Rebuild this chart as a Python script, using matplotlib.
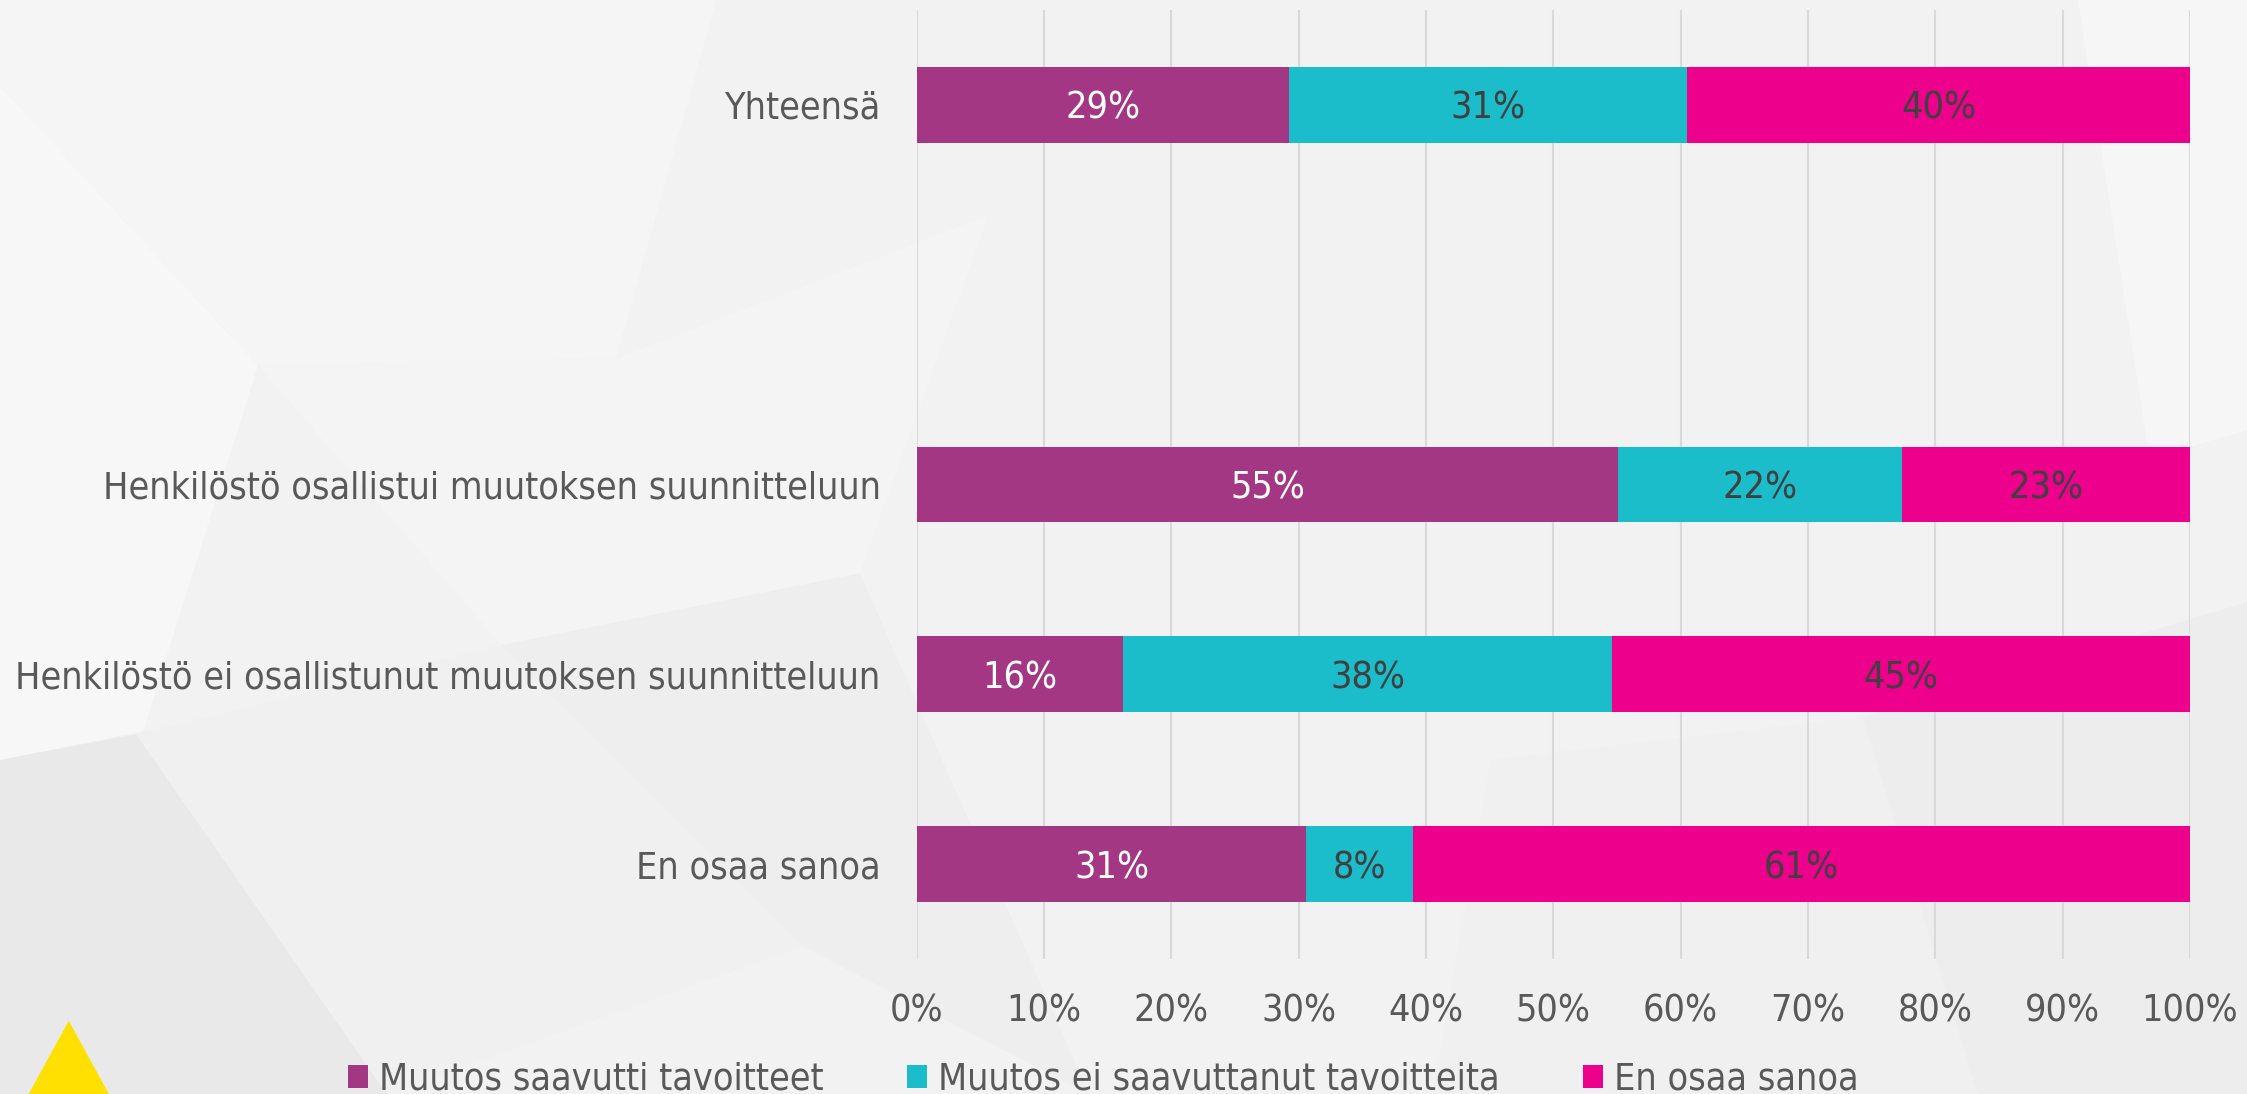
import matplotlib.pyplot as plt
from matplotlib.patches import Polygon, Patch

plt.rcParams['font.family'] = ['DejaVu Sans']
plt.rcParams['font.stretch'] = 'condensed'

# Data
categories = [
    "Yhteensä",
    "",
    "Henkilöstö osallistui muutoksen suunnitteluun",
    "Henkilöstö ei osallistunut muutoksen suunnitteluun",
    "En osaa sanoa",
]
reached = [29.2, None, 55.1, 16.2, 30.6]
not_reached = [31.3, None, 22.3, 38.4, 8.4]
dont_know = [39.5, None, 22.6, 45.4, 61.0]

series_names = [
    "Muutos saavutti tavoitteet",
    "Muutos ei saavuttanut tavoitteita",
    "En osaa sanoa",
]
colors = ["#A43784", "#1BBDCA", "#EC008C"]
label_colors = ["white", "#404040", "#404040"]
text_color = "#595959"
fs = 27

fig = plt.figure(figsize=(22.47, 10.94), dpi=100)
fig.patch.set_facecolor("#f2f2f2")

# Background shapes (light geometric pattern) in a full-figure axes
bg = fig.add_axes([0, 0, 1, 1], zorder=-1)
bg.set_xlim(0, 1568)
bg.set_ylim(763, 0)
bg.axis("off")
shapes = [
    ([(0, 0), (500, 0), (430, 250), (180, 255), (0, 60)], "#f5f5f5"),
    ([(0, 60), (180, 255), (100, 510), (0, 530)], "#f7f7f7"),
    ([(180, 255), (430, 250), (690, 150), (600, 400), (350, 450)], "#f4f4f4"),
    ([(0, 530), (95, 512), (270, 763), (0, 763)], "#e9e9e9"),
    ([(95, 512), (350, 450), (560, 660), (270, 763)], "#f0f0f0"),
    ([(350, 450), (600, 400), (760, 763), (560, 660)], "#eeeeee"),
    ([(1450, 0), (1568, 0), (1568, 300), (1500, 320)], "#f6f6f6"),
    ([(1040, 530), (1300, 500), (1380, 763), (1000, 763)], "#f0f0f1"),
    ([(1300, 500), (1568, 420), (1568, 763), (1380, 763)], "#ededed"),
]
for pts, c in shapes:
    bg.add_patch(Polygon(pts, closed=True, facecolor=c, edgecolor="none"))
# yellow triangle bottom-left
bg.add_patch(Polygon([(48, 712), (20, 763), (76, 763)], closed=True,
                     facecolor="#FFE000", edgecolor="none"))

ax = fig.add_axes([0.408, 0.1234, 0.5666, 0.8675], zorder=1)
ax.set_facecolor("none")

ypos = list(range(len(categories)))
series = [reached, not_reached, dont_know]
for i, y in enumerate(ypos):
    if series[0][i] is None:
        continue
    left = 0
    for s, vals in enumerate(series):
        v = vals[i]
        ax.barh(y, v, left=left, height=0.4, color=colors[s], zorder=3)
        ax.text(left + v / 2, y, f"{v:.0f}%", ha="center", va="center_baseline",
                fontsize=fs, color=label_colors[s], zorder=4)
        left += v

ax.set_xlim(0, 100)
ax.set_ylim(len(categories) - 0.5, -0.5)
ax.set_xticks(range(0, 101, 10))
ax.set_xticklabels([f"{t}%" for t in range(0, 101, 10)])
ax.set_yticks(ypos)
ax.set_yticklabels(categories)
ax.tick_params(axis="x", length=0, pad=25, labelsize=fs, labelcolor=text_color)
ax.tick_params(axis="y", length=0, pad=26, labelsize=fs, labelcolor=text_color)
ax.grid(axis="x", color="#d9d9d9", linewidth=1.5, zorder=0)
for sp in ax.spines.values():
    sp.set_visible(False)

handles = [Patch(facecolor=c, edgecolor="none") for c in colors]
fig.legend(handles, series_names, loc="center", bbox_to_anchor=(0.491, 0.013),
           ncol=3, frameon=False, fontsize=fs, labelcolor=text_color,
           handlelength=0.55, handleheight=0.55, handletextpad=0.3,
           columnspacing=2.2)

fig.savefig("out.png", dpi=100, facecolor=fig.get_facecolor())
